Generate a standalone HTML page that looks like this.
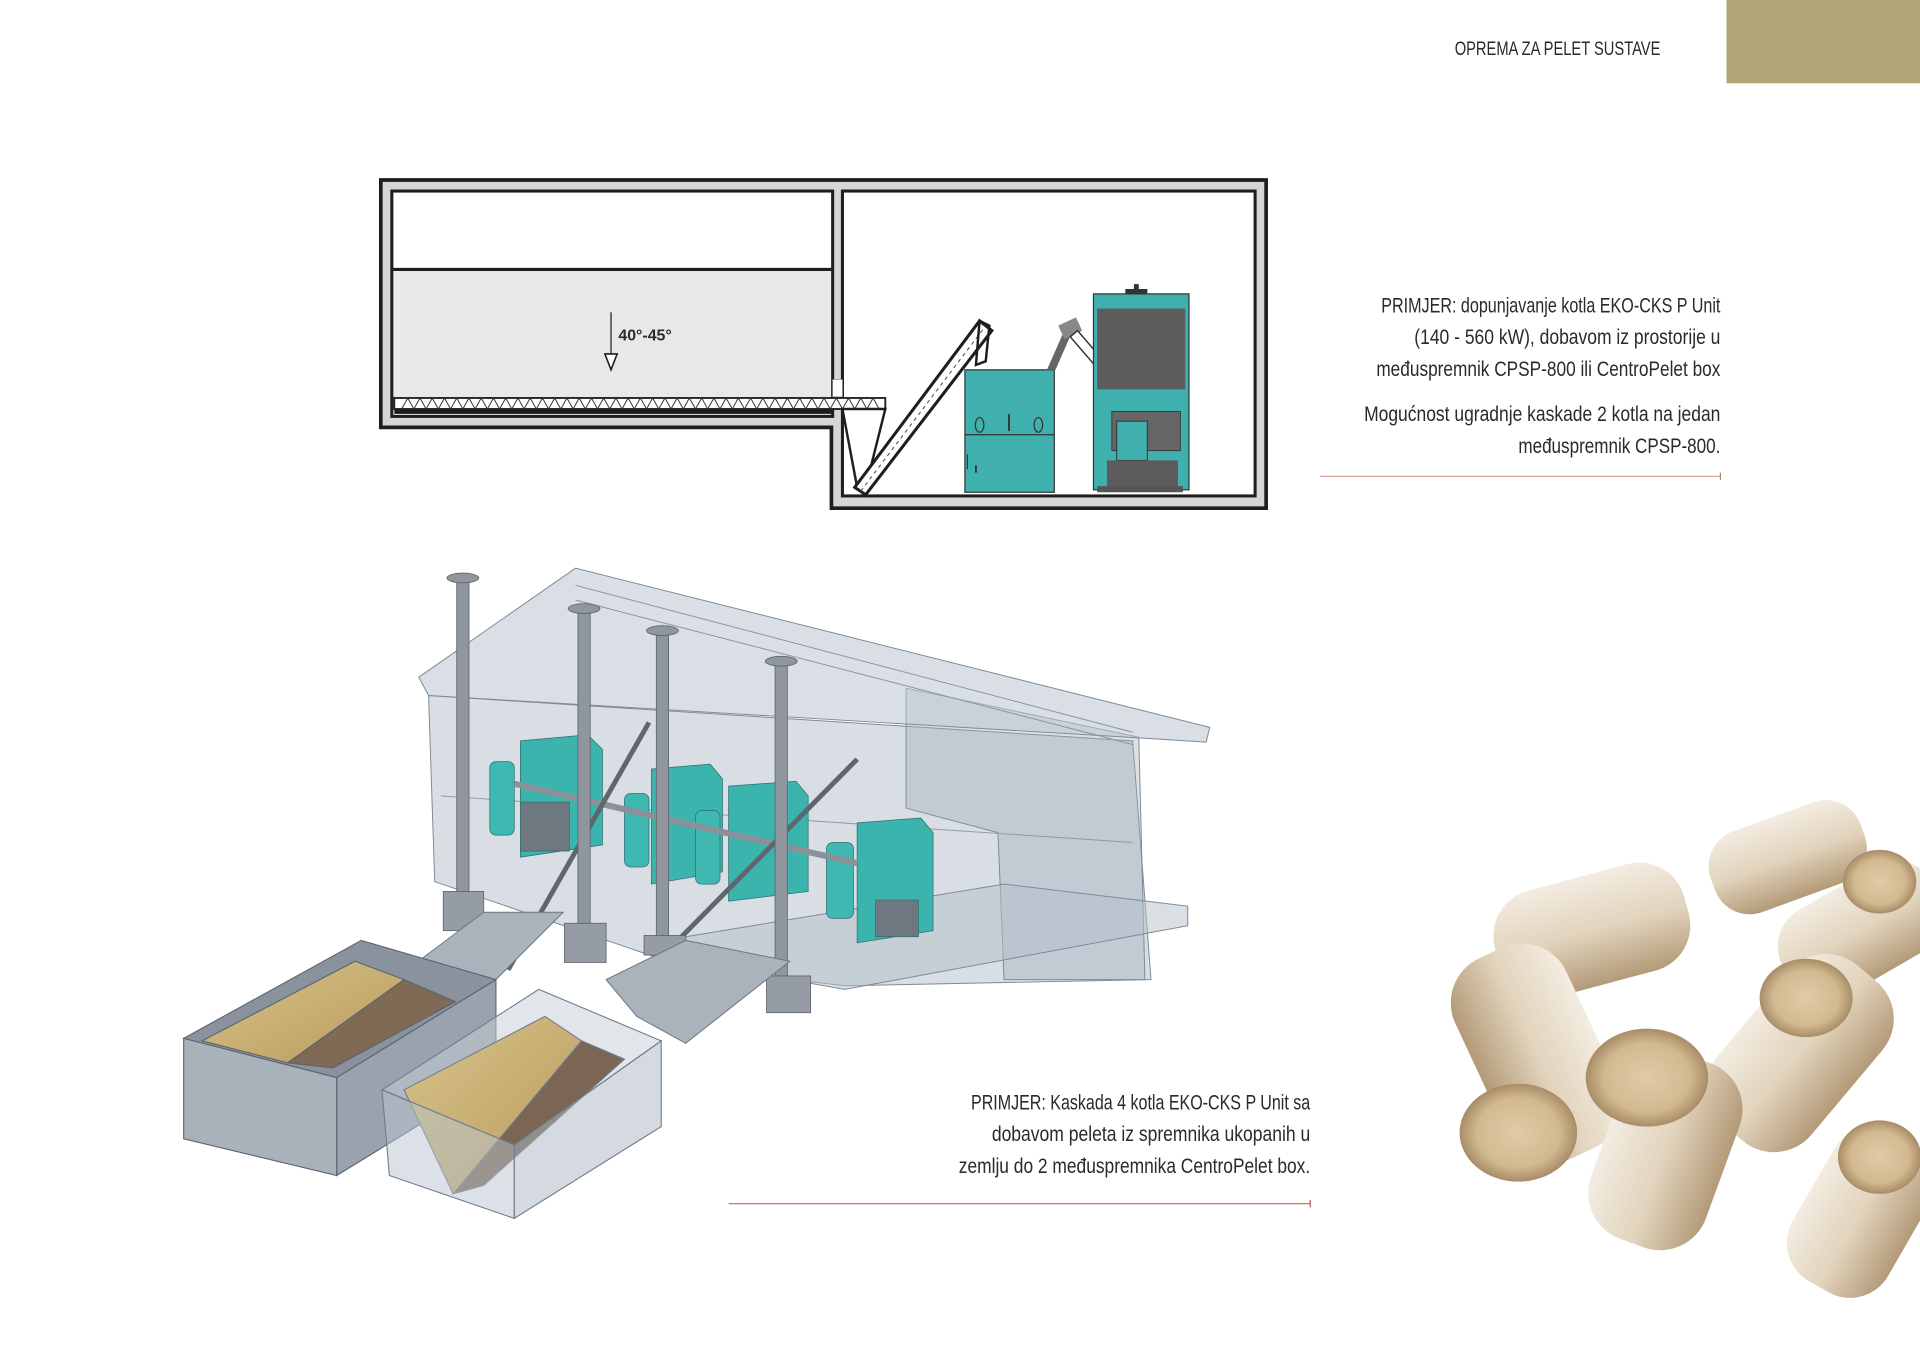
<!DOCTYPE html>
<html><head><meta charset="utf-8"><style>
html,body{margin:0;padding:0;background:#fff;}
svg{display:block;}
text{font-family:"Liberation Sans Narrow","Liberation Sans",sans-serif;fill:#2a2a2a;}
</style></head><body>
<svg width="1920" height="1358" viewBox="0 0 1568 1109" xmlns="http://www.w3.org/2000/svg">
<defs>
<linearGradient id="pel" x1="0" y1="0" x2="0" y2="1">
<stop offset="0" stop-color="#f3ece1"/><stop offset="0.5" stop-color="#e2d4bd"/><stop offset="1" stop-color="#b39a78"/></linearGradient>
<radialGradient id="pend" cx="0.5" cy="0.5" r="0.5">
<stop offset="0" stop-color="#e0cba8"/><stop offset="0.7" stop-color="#d2b98f"/><stop offset="1" stop-color="#a88c68"/></radialGradient>
<linearGradient id="sand" x1="0" y1="0" x2="1" y2="1"><stop offset="0" stop-color="#d8c48c"/><stop offset="1" stop-color="#b89a5a"/></linearGradient>
</defs>

<rect x="1410" y="0" width="158" height="68" fill="#b0a574"/>
<text x="1356" y="45" font-size="16" text-anchor="end" textLength="168" lengthAdjust="spacingAndGlyphs">OPREMA ZA PELET SUSTAVE</text>

<polygon points="311,147 1034,147 1034,415 679,415 679,349 311,349" fill="#d6d6d6" stroke="#1e1e1e" stroke-width="3"/>
<rect x="320" y="156" width="360" height="184" fill="#fff" stroke="#1e1e1e" stroke-width="2.5"/>
<rect x="688" y="156" width="337" height="249" fill="#fff" stroke="#1e1e1e" stroke-width="2.5"/>
<rect x="321.5" y="221" width="357" height="104" fill="#e8e8e8"/>
<line x1="321" y1="220" x2="679" y2="220" stroke="#1e1e1e" stroke-width="2.5"/>
<rect x="680" y="310" width="8" height="14" fill="#fff" stroke="#999" stroke-width="0.6"/>
<rect x="322" y="325" width="401" height="9" fill="#fff" stroke="#1e1e1e" stroke-width="1.5"/>
<polyline points="328,334 333,325 338,334 343,325 348,334 353,325 358,334 363,325 368,334 373,325 378,334 383,325 388,334 393,325 398,334 403,325 408,334 413,325 418,334 423,325 428,334 433,325 438,334 443,325 448,334 453,325 458,334 463,325 468,334 473,325 478,334 483,325 488,334 493,325 498,334 503,325 508,334 513,325 518,334 523,325 528,334 533,325 538,334 543,325 548,334 553,325 558,334 563,325 568,334 573,325 578,334 583,325 588,334 593,325 598,334 603,325 608,334 613,325 618,334 623,325 628,334 633,325 638,334 643,325 648,334 653,325 658,334 663,325 668,334 673,325 678,334 683,325 688,334 693,325 698,334 703,325 708,334 713,325 718,334" fill="none" stroke="#333" stroke-width="0.8"/>
<rect x="322" y="334" width="358" height="4" fill="#1e1e1e"/>
<polygon points="688,334 723,334 707,398 700,398" fill="none" stroke="#1e1e1e" stroke-width="2"/>
<line x1="499" y1="255" x2="499" y2="290" stroke="#1e1e1e" stroke-width="1"/>
<polygon points="494,289 504,289 499,302" fill="#fff" stroke="#1e1e1e" stroke-width="1.3"/>
<text x="505" y="278" font-size="13" font-weight="bold" style="font-family:'Liberation Sans',sans-serif" fill="#222">40°-45°</text>
<polygon points="698,398 800,262 810,270 707,404" fill="#fff" stroke="#1e1e1e" stroke-width="2.5"/>
<line x1="703" y1="401" x2="805" y2="266" stroke="#444" stroke-width="0.8" stroke-dasharray="3,3"/>
<polygon points="800,262 808,266 805,295 797,298" fill="none" stroke="#1e1e1e" stroke-width="2"/>
<rect x="788" y="302" width="73" height="100" fill="#40b0ae" stroke="#333" stroke-width="1"/>
<line x1="788" y1="355" x2="861" y2="355" stroke="#333" stroke-width="1"/>
<ellipse cx="800" cy="347" rx="3.5" ry="6" fill="none" stroke="#333"/>
<ellipse cx="848" cy="347" rx="3.5" ry="6" fill="none" stroke="#333"/>
<line x1="824" y1="338" x2="824" y2="352" stroke="#333" stroke-width="1.5"/>
<line x1="790" y1="371" x2="790" y2="383" stroke="#333" stroke-width="1"/>
<line x1="797" y1="380" x2="797" y2="386" stroke="#333" stroke-width="1.5"/>
<polygon points="855,302 870,268 876,270 862,302" fill="#666"/>
<rect x="866" y="262" width="16" height="12" fill="#888" transform="rotate(-25 874 268)"/>
<polygon points="874,275 880,270 936,335 930,340" fill="#fff" stroke="#333" stroke-width="1.2"/>
<rect x="893" y="240" width="78" height="160" fill="#40b0ae" stroke="#333" stroke-width="1"/>
<rect x="896" y="252" width="72" height="66" fill="#5c5c5c"/>
<rect x="919" y="236" width="18" height="4" fill="#333"/>
<rect x="926" y="232" width="4" height="5" fill="#333"/>
<rect x="908" y="336" width="56" height="32" fill="#666" stroke="#333" stroke-width="0.7"/>
<rect x="912" y="344" width="25" height="32" fill="#40b0ae" stroke="#333" stroke-width="0.8"/>
<rect x="904" y="376" width="58" height="22" fill="#5c5c5c"/>
<rect x="896" y="397" width="70" height="5" fill="#555"/>

<g font-size="17">
<text x="1405" y="255" text-anchor="end" textLength="277" lengthAdjust="spacingAndGlyphs">PRIMJER: dopunjavanje kotla EKO-CKS P Unit</text>
<text x="1405" y="281" text-anchor="end" textLength="250" lengthAdjust="spacingAndGlyphs">(140 - 560 kW), dobavom iz prostorije u</text>
<text x="1405" y="307" text-anchor="end" textLength="281" lengthAdjust="spacingAndGlyphs">međuspremnik CPSP-800 ili CentroPelet box</text>
<text x="1405" y="344" text-anchor="end" textLength="291" lengthAdjust="spacingAndGlyphs">Mogućnost ugradnje kaskade 2 kotla na jedan</text>
<text x="1405" y="370" text-anchor="end" textLength="165" lengthAdjust="spacingAndGlyphs">međuspremnik CPSP-800.</text>
</g>
<line x1="1078" y1="389" x2="1405" y2="389" stroke="#d9a39a" stroke-width="1"/>
<line x1="1405" y1="386" x2="1405" y2="392" stroke="#b08080" stroke-width="1"/>

<g stroke="#7d8a97" stroke-width="0.8">
<polygon points="350,568 925,605 940,800 690,805 560,790 355,720" fill="#a8b5c2" fill-opacity="0.45"/>
<polygon points="740,562 930,602 935,800 820,800 815,680 740,660" fill="#9aa8b6" fill-opacity="0.35"/>
<polygon points="560,765 820,722 970,740 970,756 690,808 560,785" fill="#b5c0ca" fill-opacity="0.5"/>
<polygon points="342,553 470,464 988,594 985,606 920,602 350,568" fill="#b9c5d0" fill-opacity="0.55"/>
<line x1="470" y1="478" x2="925" y2="598" stroke="#8895a2"/>
<line x1="470" y1="490" x2="925" y2="608" stroke="#8895a2"/>
<line x1="360" y1="650" x2="925" y2="688" stroke="#8d99a5"/>
</g>
<g stroke="#2d6f70" stroke-width="0.6">
<rect x="400" y="622" width="20" height="60" rx="5" fill="#3fb8b2"/>
<polygon points="425,605 480,600 492,612 492,690 425,700" fill="#3cb4ae"/>
<rect x="425" y="655" width="40" height="40" fill="#6d7880"/>
<rect x="510" y="648" width="20" height="60" rx="5" fill="#3fb8b2"/>
<polygon points="532,628 580,624 590,636 590,712 532,722" fill="#3cb4ae"/>
<rect x="568" y="662" width="20" height="60" rx="5" fill="#3fb8b2"/>
<polygon points="595,642 650,638 660,650 660,728 595,736" fill="#3cb4ae"/>
<rect x="675" y="688" width="22" height="62" rx="5" fill="#3fb8b2"/>
<polygon points="700,672 752,668 762,680 762,760 700,770" fill="#3cb4ae"/>
<rect x="715" y="735" width="35" height="30" fill="#6d7880"/>
</g>
<line x1="420" y1="640" x2="700" y2="705" stroke="#8a9198" stroke-width="5"/>
<line x1="415" y1="792" x2="530" y2="590" stroke="#5f666d" stroke-width="4"/>
<line x1="520" y1="802" x2="700" y2="620" stroke="#5f666d" stroke-width="4"/>
<g fill="#8f969e" stroke="#5f666d" stroke-width="0.7">
<rect x="373" y="472" width="10" height="262"/><ellipse cx="378" cy="472" rx="13" ry="4"/>
<rect x="472" y="497" width="10" height="262"/><ellipse cx="477" cy="497" rx="13" ry="4"/>
<rect x="536" y="515" width="10" height="258"/><ellipse cx="541" cy="515" rx="13" ry="4"/>
<rect x="633" y="540" width="10" height="260"/><ellipse cx="638" cy="540" rx="13" ry="4"/>
<rect x="362" y="728" width="33" height="32" fill="#959ca5"/>
<rect x="461" y="754" width="34" height="32" fill="#959ca5"/>
<rect x="526" y="764" width="34" height="16" fill="#959ca5"/>
<rect x="626" y="797" width="36" height="30" fill="#959ca5"/>
</g>
<g stroke="#6c7580" stroke-width="0.8">
<polygon points="335,790 395,745 460,745 405,800 362,818" fill="#aab2bc"/>
<polygon points="495,800 560,768 645,785 560,852 520,830" fill="#aab2bc"/>
</g>
<g stroke="#5a6470" stroke-width="0.9">
<polygon points="150,848 295,768 405,800 275,880" fill="#8a939d"/>
<polygon points="165,850 290,785 330,800 235,868" fill="url(#sand)"/>
<polygon points="235,868 330,800 372,818 272,872" fill="#7e6a55"/>
<polygon points="150,848 275,880 275,960 150,930" fill="#a9b1bb"/>
<polygon points="275,880 405,800 405,880 275,960" fill="#9aa3ad"/>
</g>
<g stroke="#6f7d8b" stroke-width="0.9">
<polygon points="312,890 440,808 540,850 420,935" fill="#c5ced8" fill-opacity="0.5"/>
<polygon points="330,890 445,830 475,850 370,975" fill="url(#sand)"/>
<polygon points="370,975 475,850 510,865 395,968" fill="#7a6652"/>
<polygon points="312,890 420,935 420,995 318,960" fill="#b9c4cf" fill-opacity="0.5"/>
<polygon points="420,935 540,850 540,920 420,995" fill="#aab6c2" fill-opacity="0.5"/>
</g>

<g font-size="17">
<text x="1070" y="906" text-anchor="end" textLength="277" lengthAdjust="spacingAndGlyphs">PRIMJER: Kaskada 4 kotla EKO-CKS P Unit sa</text>
<text x="1070" y="932" text-anchor="end" textLength="260" lengthAdjust="spacingAndGlyphs">dobavom peleta iz spremnika ukopanih u</text>
<text x="1070" y="958" text-anchor="end" textLength="287" lengthAdjust="spacingAndGlyphs">zemlju do 2 međuspremnika CentroPelet box.</text>
</g>
<line x1="595" y1="983" x2="1070" y2="983" stroke="#d7604e" stroke-width="1"/>
<line x1="1070" y1="980" x2="1070" y2="986" stroke="#b06050" stroke-width="1"/>

<g>
<rect x="-65" y="-35" width="130" height="70" rx="30" fill="url(#pel)" transform="translate(1460,700) rotate(-20)"/>
<rect x="-70" y="-40" width="140" height="80" rx="34" fill="url(#pel)" transform="translate(1520,760) rotate(-30)"/>
<rect x="-80" y="-45" width="160" height="90" rx="38" fill="url(#pel)" transform="translate(1300,760) rotate(-15)"/>
<rect x="-90" y="-50" width="180" height="100" rx="40" fill="url(#pel)" transform="translate(1255,860) rotate(65)"/>
<ellipse cx="1240" cy="925" rx="48" ry="40" fill="url(#pend)"/>
<rect x="-85" y="-50" width="170" height="100" rx="40" fill="url(#pel)" transform="translate(1470,860) rotate(-50)"/>
<ellipse cx="1475" cy="815" rx="38" ry="32" fill="url(#pend)"/>
<rect x="-80" y="-50" width="160" height="100" rx="40" fill="url(#pel)" transform="translate(1360,940) rotate(-70)"/>
<ellipse cx="1345" cy="880" rx="50" ry="40" fill="url(#pend)"/>
<rect x="-70" y="-45" width="140" height="90" rx="36" fill="url(#pel)" transform="translate(1520,990) rotate(-60)"/>
<ellipse cx="1535" cy="945" rx="34" ry="30" fill="url(#pend)"/>
<ellipse cx="1535" cy="720" rx="30" ry="26" fill="url(#pend)"/>
</g>
</svg>
</body></html>
